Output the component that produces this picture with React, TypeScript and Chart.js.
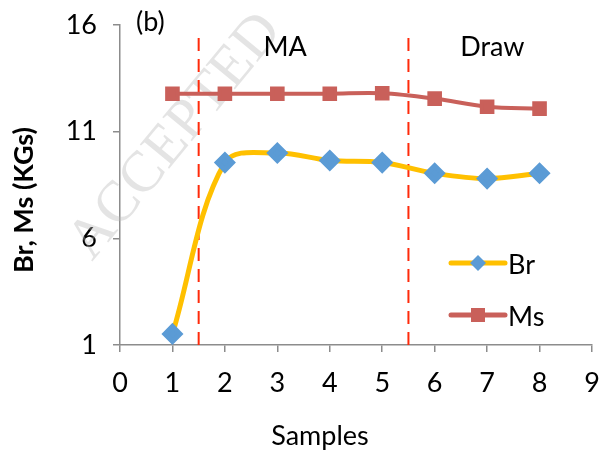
import React, { useEffect, useRef } from "react";
import { Chart, registerables } from "chart.js";

Chart.register(...registerables);

const samples = [1, 2, 3, 4, 5, 6, 7, 8];
const brValues = [1.52, 9.55, 10.0, 9.65, 9.55, 9.05, 8.8, 9.05];
const msValues = [12.78, 12.78, 12.78, 12.78, 12.8, 12.55, 12.17, 12.08];
const dividers = [1.5, 5.5];
const regionLabels = [
  { text: "MA", x: 3.15 },
  { text: "Draw", x: 7.1 },
];
const xTicks = [0, 9];
const yTicks = [1, 16];

const FONT = "Lato, 'Open Sans', sans-serif";
const FS = 27;

const zeroPad = () => ({ left: 0, right: 0, top: 0, bottom: 0 });

const decorPlugin = {
  id: "decor",
  beforeDatasetsDraw(chart: any) {
    const { ctx } = chart;
    const xs = chart.scales.x;
    const ys = chart.scales.y;
    // watermark
    ctx.save();
    ctx.translate(92, 262);
    ctx.rotate(-Math.PI * 0.28);
    ctx.font = "58px 'Liberation Serif', serif";
    ctx.fillStyle = "rgba(185,185,185,0.38)";
    ctx.textBaseline = "alphabetic";
    ctx.fillText("ACCEPTED", 0, 0);
    ctx.restore();
    // dividers
    ctx.save();
    ctx.strokeStyle = "#ff2a0a";
    ctx.lineWidth = 2;
    ctx.setLineDash([13, 8]);
    for (const d of dividers) {
      const px = xs.getPixelForValue(d);
      ctx.beginPath();
      ctx.moveTo(px, 38);
      ctx.lineTo(px, ys.getPixelForValue(1));
      ctx.stroke();
    }
    ctx.restore();
    // region labels and axis titles
    ctx.save();
    ctx.fillStyle = "#000";
    ctx.font = `${FS}px ${FONT}`;
    ctx.textAlign = "center";
    ctx.textBaseline = "middle";
    for (const r of regionLabels) {
      ctx.fillText(r.text, xs.getPixelForValue(r.x), 47);
    }
    ctx.fillText("Samples", 320, 436);
    ctx.textAlign = "left";
    ctx.fillText("(b)", 136, 22);
    ctx.translate(24, 200);
    ctx.rotate(-Math.PI / 2);
    ctx.textAlign = "center";
    ctx.font = `bold ${FS}px ${FONT}`;
    ctx.fillText("Br, Ms (KGs)", 0, 0);
    ctx.restore();
  },
  afterDraw(chart: any) {
    const { ctx } = chart;
    ctx.save();
    // Br legend
    ctx.strokeStyle = "#ffc000";
    ctx.lineWidth = 5;
    ctx.lineCap = "round";
    ctx.beginPath();
    ctx.moveTo(451, 263);
    ctx.lineTo(505, 263);
    ctx.stroke();
    ctx.fillStyle = "#5b9bd5";
    ctx.beginPath();
    ctx.moveTo(478, 255);
    ctx.lineTo(486, 263);
    ctx.lineTo(478, 271);
    ctx.lineTo(470, 263);
    ctx.closePath();
    ctx.fill();
    // Ms legend
    ctx.strokeStyle = "#c9605a";
    ctx.lineWidth = 5;
    ctx.beginPath();
    ctx.moveTo(451, 315);
    ctx.lineTo(505, 315);
    ctx.stroke();
    ctx.fillStyle = "#c9605a";
    ctx.fillRect(471, 308, 14, 14);
    ctx.fillStyle = "#000";
    ctx.font = `${FS}px ${FONT}`;
    ctx.textBaseline = "middle";
    ctx.fillText("Br", 508, 265);
    ctx.fillText("Ms", 508, 317);
    ctx.restore();
  },
};

export default function App() {
  const ref = useRef<HTMLCanvasElement | null>(null);
  useEffect(() => {
    document.body.style.margin = "0";
    const canvas = ref.current;
    if (!canvas) return;
    const chart = new Chart(canvas, {
      type: "line",
      data: {
        datasets: [
          {
            label: "Br",
            data: samples.map((s, i) => ({ x: s, y: brValues[i] })),
            borderColor: "#ffc000",
            borderWidth: 5,
            backgroundColor: "#5b9bd5",
            pointBackgroundColor: "#5b9bd5",
            pointBorderColor: "#5b9bd5",
            pointStyle: "rectRot",
            pointRadius: 7.5,
            tension: 0.35,
          },
          {
            label: "Ms",
            data: samples.map((s, i) => ({ x: s, y: msValues[i] })),
            borderColor: "#c9605a",
            borderWidth: 4,
            backgroundColor: "#c9605a",
            pointBackgroundColor: "#c9605a",
            pointBorderColor: "#c9605a",
            pointStyle: "rect",
            pointRadius: 7.5,
            tension: 0.35,
          },
        ],
      },
      options: {
        animation: false,
        responsive: false,
        layout: { autoPadding: false, padding: { left: 0, right: 8, top: 25, bottom: 0 } },
        plugins: { legend: { display: false }, tooltip: { enabled: false } },
        scales: {
          x: {
            type: "linear",
            min: xTicks[0],
            max: xTicks[1],
            ticks: { stepSize: 1, color: "#000", font: { family: FONT, size: FS }, padding: 15 },
            grid: { drawOnChartArea: false, tickLength: 7, color: "#8c8c8c", lineWidth: 1.5 },
            border: { color: "#8c8c8c", width: 1.5 },
            afterFit: (s: any) => {
              s.height = 106;
              s.paddingLeft = 0;
              s.paddingRight = 0;
              s.getPadding = zeroPad;
            },
          },
          y: {
            type: "linear",
            min: yTicks[0],
            max: yTicks[1],
            ticks: { stepSize: 5, color: "#000", font: { family: FONT, size: FS }, padding: 16 },
            grid: { drawOnChartArea: false, tickLength: 7, color: "#8c8c8c", lineWidth: 1.5 },
            border: { color: "#8c8c8c", width: 1.5 },
            afterFit: (s: any) => {
              s.width = 120;
              s.paddingTop = 0;
              s.paddingBottom = 0;
              s.getPadding = zeroPad;
            },
          },
        },
      },
      plugins: [decorPlugin],
    });
    return () => chart.destroy();
  }, []);
  return (
    <div style={{ width: 600, height: 451 }}>
      <canvas ref={ref} width={600} height={451} style={{ display: "block" }} />
    </div>
  );
}
